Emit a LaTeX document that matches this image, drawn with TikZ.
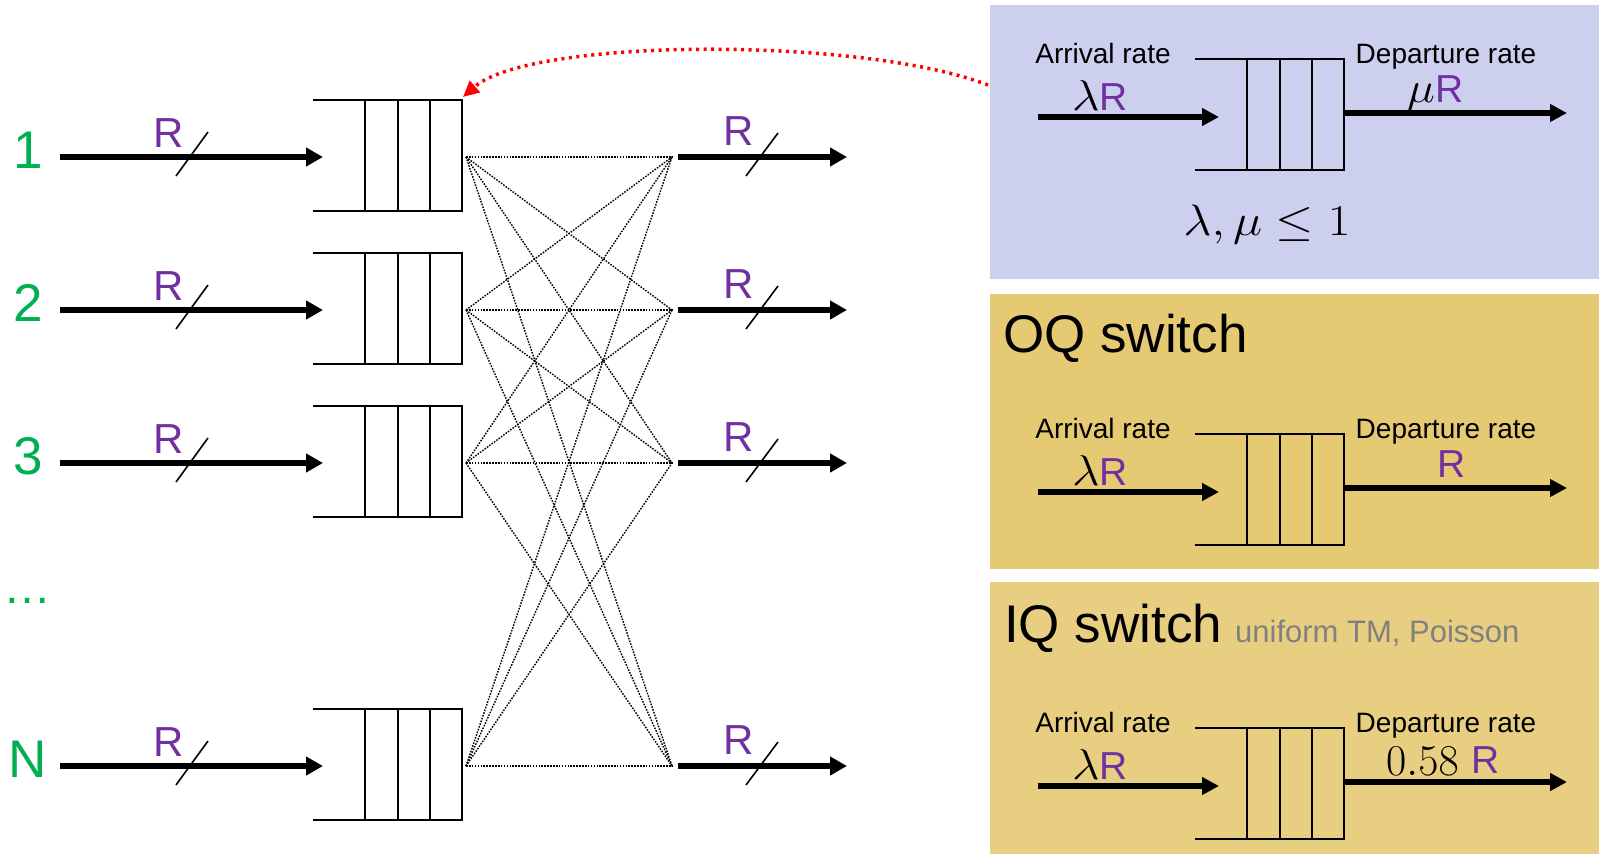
\RequirePackage{fix-cm}
\documentclass[tikz,border=0pt]{standalone}
\usepackage[no-math]{fontspec}
\setmainfont{Liberation Sans}
\usetikzlibrary{arrows.meta}
\definecolor{grn}{HTML}{00B050}
\definecolor{pur}{HTML}{7030A0}
\definecolor{lav}{HTML}{CDCFEE}
\definecolor{goldA}{HTML}{E5C973}
\definecolor{goldB}{HTML}{E8CE81}
\definecolor{redd}{HTML}{FF0000}
\definecolor{graytxt}{HTML}{808080}
\newcommand{\fsz}[1]{\fontsize{#1}{#1}\selectfont}
\tikzset{
  fatarrow/.style={line width=6pt, -{Triangle[length=17pt,width=18pt]}},
  panarrow/.style={line width=5.5pt, -{Triangle[length=17pt,width=17pt]}},
  qline/.style={line width=2pt},
  cross/.style={line width=1.4pt, dash pattern=on 1.6pt off 1.3pt},
  slash/.style={line width=1.6pt},
  portlbl/.style={text=grn, font=\fsz{53}, inner sep=0pt, anchor=base},
  rlbl/.style={text=pur, font=\fsz{42}, inner sep=0pt, anchor=base},
  txt/.style={inner sep=0pt, anchor=base, font=\fsz{28}},
  panel/.style={inner sep=0pt, outer sep=0pt, anchor=north west, minimum width=609pt},
  reddot/.style={redd, line width=3.5pt, dash pattern=on 3pt off 4.5pt, -{Triangle[length=16pt,width=15pt]}},
}
% queue: name, left x, row y
\newcommand{\qbox}[3]{%
  \draw[qline] (#2,#3-57) -- (#2+149,#3-57) -- (#2+149,#3+54) -- (#2,#3+54);
  \foreach \dd in {52,85,117} \draw[qline] (#2+\dd,#3-57) -- (#2+\dd,#3+54);
  \coordinate (#1-in) at (#2+10,#3);
  \coordinate (#1-out) at (#2+153,#3);
  \coordinate (#1-tr) at (#2+150,#3-60);
}
\begin{document}
\begin{tikzpicture}[x=1pt,y=-1pt]
\useasboundingbox (0,0) rectangle (1599,854);
\fill[white] (0,0) rectangle (1599,854);

% ---- right panels ----
\node[panel, fill=lav, minimum height=274pt] (p1) at (990,5) {};
\node[panel, fill=goldA, minimum height=275pt] (p2) at (990,294) {};
\node[panel, fill=goldB, minimum height=272pt] (p3) at (990,582) {};

% ---- left switch ----
\foreach \k/\r/\lab in {1/157/1, 2/310/2, 3/463/3, 4/766/N} {
  \node[portlbl] (lab\k) at (28,\r+11) {\lab};
  \coordinate (in\k) at (60,\r);
  \qbox{q\k}{313}{\r}
  \draw[fatarrow] (in\k) -- (q\k-in);
  \node[rlbl] (ri\k) at (169,\r-10) {R};
  \draw[slash] (176,\r+19) -- (208,\r-25);
  \coordinate (o\k) at (672,\r);
  \coordinate (oa\k) at (678,\r);
  \coordinate (ob\k) at (847,\r);
  \draw[fatarrow] (oa\k) -- (ob\k);
  \node[rlbl] (ro\k) at (739,\r-12) {R};
  \draw[slash] (746,\r+19) -- (778,\r-24);
}
\node[portlbl, font=\fsz{48}] (dots) at (28,603) {…};

\foreach \i in {1,2,3,4} {
  \foreach \j in {1,2,3,4} {
    \draw[cross] (q\i-out) -- (o\j);
  }
}

% ---- red dotted arrow ----
\coordinate (rs) at (988,85);
\draw[reddot] (rs) .. controls (860,36) and (530,38) .. (q1-tr);

% ---- panel contents ----
\foreach \pp/\off in {a/0, b/375, c/669} {
  \node[txt] (arr\pp) at (1103,63+\off) {Arrival rate};
  \node[txt] (dep\pp) at (1446,63+\off) {Departure rate};
  \qbox{pq\pp}{1195}{116+\off}
  \coordinate (pin\pp) at (1038,117+\off);
  \coordinate (pqin\pp) at (1219,117+\off);
  \draw[panarrow] (pin\pp) -- (pqin\pp);
  \coordinate (pout\pp) at (1343,113+\off);
  \coordinate (poutb\pp) at (1567,113+\off);
  \draw[panarrow] (pout\pp) -- (poutb\pp);
  \node[inner sep=0pt, anchor=base west] (lr\pp) at (1072,110+\off)
    {\fsz{43}\scalebox{1.12}[1]{$\lambda$}\fsz{39}\color{pur}R};
}
\node[inner sep=0pt, anchor=base west] (mur) at (1407,102)
  {\fsz{43}\scalebox{1.1}[1]{$\mu$}\fsz{39}\color{pur}R};
\node[inner sep=0pt, anchor=base] (cond) at (1267,235)
  {\fsz{44}\scalebox{1.12}[1]{$\lambda,\mu\leq 1$}};

\node[inner sep=0pt, anchor=base west, font=\fsz{53}] (oq) at (1003,352) {OQ switch};
\node[rlbl, font=\fsz{39}] (roq) at (1452,477) {R};

\node[inner sep=0pt, anchor=base west, font=\fsz{53}] (iq) at (1004,642) {IQ switch};
\node[inner sep=0pt, anchor=base west, font=\fsz{31}, text=graytxt] (iqsub) at (1235,642) {uniform TM, Poisson};
\node[inner sep=0pt, anchor=base west] (dep58) at (1386,775)
  {\fsz{44}$0.58$};
\node[rlbl, font=\fsz{39}, anchor=base west] (r58) at (1471,773) {R};
\end{tikzpicture}
\end{document}
